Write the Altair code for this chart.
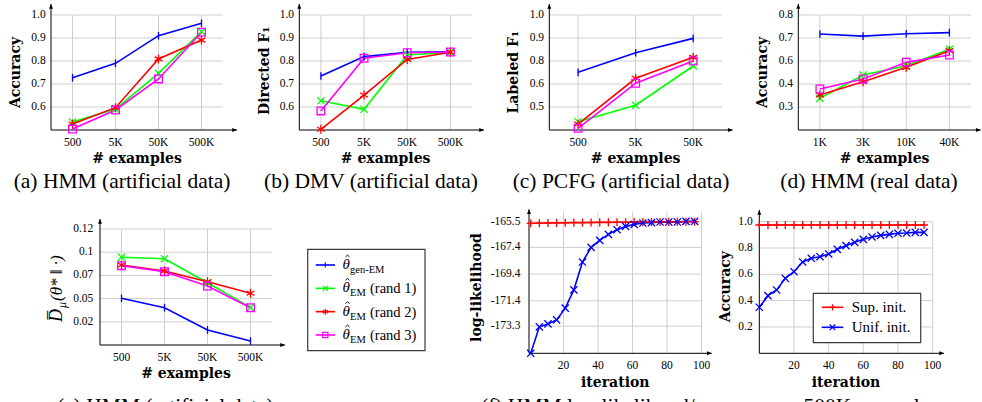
import altair as alt
import pandas as pd

W, H = 982, 402

# ---------------- series names ----------------
EM_SERIES = ["gen-EM", "rand 1", "rand 2", "rand 3"]
INIT_SERIES = ["Sup. init.", "Unif. init."]

# ---------------- (a) HMM artificial ----------------
A_CATS = ["500", "5K", "50K", "500K"]
A_GEN = [0.727, 0.790, 0.910, 0.964]
A_R1 = [0.535, 0.591, 0.746, 0.928]
A_R2 = [0.526, 0.597, 0.809, 0.891]
A_R3 = [0.504, 0.587, 0.722, 0.925]

# ---------------- (b) DMV artificial ----------------
B_CATS = ["500", "5K", "50K", "500K"]
B_GEN = [0.735, 0.819, 0.838, 0.840]
B_R1 = [0.627, 0.590, 0.826, 0.838]
B_R2 = [0.503, 0.652, 0.807, 0.838]
B_R3 = [0.583, 0.812, 0.836, 0.839]

# ---------------- (c) PCFG artificial ----------------
C_CATS = ["500", "5K", "50K"]
C_GEN = [0.701, 0.803, 0.878]
C_R1 = [0.443, 0.529, 0.734]
C_R2 = [0.431, 0.670, 0.779]
C_R3 = [0.409, 0.644, 0.760]

# ---------------- (d) HMM real ----------------
D_CATS = ["1K", "3K", "10K", "40K"]
D_GEN = [0.701, 0.690, 0.702, 0.708]
D_R1 = [0.365, 0.487, 0.535, 0.621]
D_R2 = [0.383, 0.452, 0.527, 0.614]
D_R3 = [0.414, 0.466, 0.553, 0.591]

# ---------------- (e) divergence ----------------
E_CATS = ["500", "5K", "50K", "500K"]
E_GEN = [0.0503, 0.0402, 0.0162, 0.0043]
E_R1 = [0.0945, 0.0930, 0.0671, 0.0406]
E_R2 = [0.0862, 0.0797, 0.0682, 0.0557]
E_R3 = [0.0855, 0.0790, 0.0636, 0.0402]

# ---------------- (f) log-likelihood vs iteration ----------------
F_ITER = [1, 6, 11, 16, 21, 26, 31, 36, 41, 46, 51, 56, 61, 66, 71, 76, 81, 86, 91, 96]
F_SUP = [-165.60, -165.59, -165.58, -165.57, -165.56, -165.55, -165.55, -165.54, -165.53, -165.53,
         -165.52, -165.52, -165.51, -165.51, -165.50, -165.50, -165.49, -165.49, -165.48, -165.48]
F_UNIF = [-175.33, -173.35, -173.13, -172.83, -171.95, -170.58, -168.50, -167.40, -166.88, -166.43,
          -166.08, -165.83, -165.68, -165.58, -165.55, -165.50, -165.50, -165.50, -165.45, -165.45]

# ---------------- (g) accuracy vs iteration ----------------
G_ITER = [0, 5, 10, 15, 20, 25, 30, 35, 40, 45, 50, 55, 60, 65, 70, 75, 80, 85, 90, 95]
G_SUP = [0.975, 0.975, 0.975, 0.975, 0.975, 0.975, 0.975, 0.975, 0.975, 0.975,
         0.975, 0.975, 0.975, 0.975, 0.975, 0.975, 0.975, 0.975, 0.975, 0.975]
G_UNIF = [0.350, 0.438, 0.481, 0.570, 0.620, 0.694, 0.722, 0.734, 0.755, 0.790,
          0.818, 0.843, 0.866, 0.884, 0.896, 0.904, 0.912, 0.914, 0.919, 0.919]

# ---------------- tick labels ----------------
Y_TICKS_AB = [0.6, 0.7, 0.8, 0.9, 1.0]
Y_LABELS_AB = ["0.6", "0.7", "0.8", "0.9", "1.0"]
Y_TICKS_C = [0.52, 0.64, 0.76, 0.88, 1.0]
Y_LABELS_C = ["0.5", "0.6", "0.8", "0.9", "1.0"]
Y_TICKS_D = [0.32, 0.44, 0.56, 0.68, 0.80]
Y_LABELS_D = ["0.3", "0.4", "0.6", "0.7", "0.8"]
Y_TICKS_E = [0.025, 0.05, 0.075, 0.1, 0.125]
Y_LABELS_E = ["0.02", "0.05", "0.07", "0.1", "0.12"]
Y_TICKS_F = [-173.3, -171.4, -169.4, -167.4, -165.5]
Y_LABELS_F = ["-173.3", "-171.4", "-169.4", "-167.4", "-165.5"]
Y_TICKS_G = [0.2, 0.4, 0.6, 0.8, 1.0]
Y_LABELS_G = ["0.2", "0.4", "0.6", "0.8", "1.0"]
IT_TICKS = [20, 40, 60, 80, 100]
IT_LABELS = ["20", "40", "60", "80", "100"]

TOP_CAPTIONS = ["(a) HMM (artificial data)", "(b) DMV (artificial data)",
                "(c) PCFG (artificial data)", "(d) HMM (real data)"]
BOTTOM_CAPTIONS = ["(e) HMM (artificial data)", "(f) HMM log-likelihood/accuracy on 500K examples"]

# ---------------- styles ----------------
SERIF = "Liberation Serif"
BOLD = "DejaVu Serif"
LFS = 11.5
TFS = 14
GRID = "#cfcfcf"
BAR = "M0,-0.85L0,0.85"
XMK = "M-0.8,-0.8L0.8,0.8M-0.8,0.8L0.8,-0.8"
STAR = "M0,-1L0,1M-0.87,-0.5L0.87,0.5M-0.87,0.5L0.87,-0.5"
SQR = "M-0.85,-0.85L0.85,-0.85L0.85,0.85L-0.85,0.85Z"
PLUS = "M0,-0.9L0,0.9M-0.9,0L0.9,0"
ARROW_R = "M0,0L-1,-0.42L-1,0.42Z"
ARROW_U = "M0,0L-0.42,1L0.42,1Z"
HAT = "M-1,0.45L0,-0.45L1,0.45"

ALL_SERIES = EM_SERIES + INIT_SERIES
CSCALE = alt.Scale(domain=ALL_SERIES,
                   range=["#0000ff", "#00ff00", "#ff0000", "#ff00ff", "#ff0000", "#0000ff"])
SSCALE = alt.Scale(domain=ALL_SERIES, range=[BAR, XMK, STAR, SQR, PLUS, XMK])

ONE = pd.DataFrame({"k": [0]})

# geometry of each panel (pixels)
GEO = {
    "a": dict(xr=[51, 223], yr=[130, 15], xd=[-0.5, 3.5], yd=[0.5, 1.0], xtip=237, ytip=4,
              ytx=20.2, yty=72.5, lpy=5.3),
    "b": dict(xr=[299.3, 472], yr=[130, 15], xd=[-0.5, 3.5], yd=[0.5, 1.0], xtip=484, ytip=4,
              ytx=269.2, yty=70.8, lpy=5.3),
    "c": dict(xr=[549.3, 722], yr=[130, 15], xd=[-0.5, 2.5], yd=[0.4, 1.0], xtip=732.7, ytip=4,
              ytx=517.5, yty=72.2, lpy=5.3),
    "d": dict(xr=[798.3, 971], yr=[130, 15], xd=[-0.5, 3.5], yd=[0.2, 0.8], xtip=980.7, ytip=4,
              ytx=766.9, yty=72.5, lpy=5.3),
    "e": dict(xr=[100, 272], yr=[345, 229], xd=[-0.5, 3.5], yd=[0.0, 0.125], xtip=285, ytip=219,
              ytx=62, yty=287, lpy=6.7),
    "f": dict(xr=[529, 701.5], yr=[353.3, 211.7], xd=[0, 100], yd=[-175.33, -164.73], xtip=711.7,
              ytip=209.3, ytx=480.6, yty=287.5, lpy=8.6),
    "g": dict(xr=[759.3, 932.7], yr=[353.3, 221.7], xd=[0, 100], yd=[0.0, 1.0], xtip=944, ytip=210,
              ytx=730.2, yty=286.7, lpy=6.6),
}
XLAB_DY = 16
XTITLE_DY = 33.3


def inv(px, dom, rng):
    return dom[0] + (px - rng[0]) * (dom[1] - dom[0]) / (rng[1] - rng[0])


def long_df(xs, names, lists):
    rows = []
    for name, vals in zip(names, lists):
        for x, v in zip(xs, vals):
            rows.append({"x": x, "v": v, "s": name})
    return pd.DataFrame(rows)


def text_layer(txt, x, y, size, font=SERIF, align="center", angle=0, style="normal",
               weight="normal"):
    return alt.Chart(ONE).mark_text(text=txt, font=font, fontSize=size, align=align,
                                    baseline="alphabetic", angle=angle, fontStyle=style,
                                    fontWeight=weight, color="black").encode(
        x=alt.value(x), y=alt.value(y))


def make_panel(df, g, xt_vals, xt_labels, yt_vals, yt_labels, xgrid, xtitle, ytitle):
    xs = alt.Scale(domain=g["xd"], range=g["xr"], nice=False, zero=False)
    ys = alt.Scale(domain=g["yd"], range=g["yr"], nice=False, zero=False)

    def X(f):
        return alt.X(f, scale=xs, axis=None)

    def Y(f):
        return alt.Y(f, scale=ys, axis=None)

    vg = pd.DataFrame({"gx": xgrid, "y0": g["yd"][0], "y1": g["yd"][1]})
    hg = pd.DataFrame({"gy": yt_vals, "x0": g["xd"][0], "x1": g["xd"][1]})
    ax = pd.DataFrame({"x0": [g["xd"][0]], "x1": [inv(g["xtip"], g["xd"], g["xr"])],
                       "y0": [g["yd"][0]], "y1": [inv(g["ytip"], g["yd"], g["yr"])]})
    xl = pd.DataFrame({"t": xt_vals, "lab": xt_labels, "base": g["yd"][0]})
    yl = pd.DataFrame({"t": yt_vals, "lab": yt_labels, "base": g["xd"][0]})

    layers = [
        alt.Chart(vg).mark_rule(color=GRID, strokeWidth=1).encode(
            x=X("gx:Q"), y=Y("y0:Q"), y2="y1:Q"),
        alt.Chart(hg).mark_rule(color=GRID, strokeWidth=1).encode(
            y=Y("gy:Q"), x=X("x0:Q"), x2="x1:Q"),
        alt.Chart(ax).mark_rule(color="black", strokeWidth=1).encode(
            x=X("x0:Q"), x2="x1:Q", y=Y("y0:Q")),
        alt.Chart(ax).mark_rule(color="black", strokeWidth=1).encode(
            x=X("x0:Q"), y=Y("y0:Q"), y2="y1:Q"),
        alt.Chart(ax).mark_point(shape=ARROW_R, filled=True, size=90, color="black",
                                 opacity=1).encode(x=X("x1:Q"), y=Y("y0:Q")),
        alt.Chart(ax).mark_point(shape=ARROW_U, filled=True, size=90, color="black",
                                 opacity=1).encode(x=X("x0:Q"), y=Y("y1:Q")),
        # tick labels
        alt.Chart(xl).mark_text(font=SERIF, fontSize=LFS, align="center", baseline="alphabetic",
                                dy=XLAB_DY, color="black").encode(
            x=X("t:Q"), y=Y("base:Q"), text="lab:N"),
        alt.Chart(yl).mark_text(font=SERIF, fontSize=LFS, align="right", baseline="middle",
                                dx=-g["lpy"], color="black").encode(
            x=X("base:Q"), y=Y("t:Q"), text="lab:N"),
        # data
        alt.Chart(df).mark_line(strokeWidth=1.6).encode(
            x=X("x:Q"), y=Y("v:Q"), color=alt.Color("s:N", scale=CSCALE, legend=None)),
        alt.Chart(df).mark_point(filled=False, size=81, strokeWidth=1.3, opacity=1).encode(
            x=X("x:Q"), y=Y("v:Q"),
            color=alt.Color("s:N", scale=CSCALE, legend=None),
            shape=alt.Shape("s:N", scale=SSCALE, legend=None)),
        # axis titles
        text_layer(xtitle, (g["xr"][0] + g["xr"][1]) / 2, g["yr"][0] + XTITLE_DY, TFS,
                   font=BOLD, weight="bold"),
    ]
    if ytitle:
        layers.append(text_layer(ytitle, g["ytx"], g["yty"], TFS, font=BOLD, weight="bold",
                                 angle=270))
    return alt.layer(*layers)


idx4 = [0, 1, 2, 3]
idx3 = [0, 1, 2]
XT = "# examples"

pa = make_panel(long_df(idx4, EM_SERIES, [A_GEN, A_R1, A_R2, A_R3]), GEO["a"], idx4, A_CATS,
                Y_TICKS_AB, Y_LABELS_AB, idx4, XT, "Accuracy")
pb = make_panel(long_df(idx4, EM_SERIES, [B_GEN, B_R1, B_R2, B_R3]), GEO["b"], idx4, B_CATS,
                Y_TICKS_AB, Y_LABELS_AB, idx4, XT, "Directed F\u2081")
pc = make_panel(long_df(idx3, EM_SERIES, [C_GEN, C_R1, C_R2, C_R3]), GEO["c"], idx3, C_CATS,
                Y_TICKS_C, Y_LABELS_C, idx3, XT, "Labeled F\u2081")
pd_ = make_panel(long_df(idx4, EM_SERIES, [D_GEN, D_R1, D_R2, D_R3]), GEO["d"], idx4, D_CATS,
                 Y_TICKS_D, Y_LABELS_D, idx4, XT, "Accuracy")
pe = make_panel(long_df(idx4, EM_SERIES, [E_GEN, E_R1, E_R2, E_R3]), GEO["e"], idx4, E_CATS,
                Y_TICKS_E, Y_LABELS_E, idx4, XT, None)
pf = make_panel(long_df(F_ITER, INIT_SERIES, [F_SUP, F_UNIF]), GEO["f"], IT_TICKS, IT_LABELS,
                Y_TICKS_F, Y_LABELS_F, IT_TICKS, "iteration", "log-likelihood")
pg = make_panel(long_df(G_ITER, INIT_SERIES, [G_SUP, G_UNIF]), GEO["g"], IT_TICKS, IT_LABELS,
                Y_TICKS_G, Y_LABELS_G, IT_TICKS, "iteration", "Accuracy")

# ---- (e) y-axis title composed of pieces ----
e_title = [
    text_layer("D\u0305", 62, 322, 18, style="italic", align="left", angle=270),
    text_layer("\u03bc", 66, 308, 12, style="italic", align="left", angle=270),
    text_layer("(\u03b8* \u2016 \u00b7)", 62, 301, 17, style="italic", align="left", angle=270),
]

# ---- legend of (e) ----
LEG_E = pd.DataFrame({"s": EM_SERIES, "row": [0, 1, 2, 3],
                      "sub": ["gen-EM", "EM", "EM", "EM"],
                      "suf": ["", "(rand 1)", "(rand 2)", "(rand 3)"]})
ly = alt.Scale(domain=[0, 3], range=[265, 335])
ly_hat = alt.Scale(domain=[0, 3], range=[256, 326])
LY = alt.Y("row:Q", scale=ly, axis=None)
leg_e = [
    alt.Chart(ONE).mark_rect(fill="white", stroke="#3a3a3a", strokeWidth=1.2).encode(
        x=alt.value(307.7), x2=alt.value(425), y=alt.value(249.3), y2=alt.value(350.7)),
    alt.Chart(LEG_E).mark_rule(strokeWidth=1.6).encode(
        x=alt.value(315.7), x2=alt.value(335), y=LY,
        color=alt.Color("s:N", scale=CSCALE, legend=None)),
    alt.Chart(LEG_E).mark_point(filled=False, size=36, strokeWidth=1.2, opacity=1).encode(
        x=alt.value(325.3), y=LY,
        color=alt.Color("s:N", scale=CSCALE, legend=None),
        shape=alt.Shape("s:N", scale=SSCALE, legend=None)),
    alt.Chart(LEG_E).mark_text(text="\u03b8", font=SERIF, fontSize=15, fontStyle="italic",
                               align="left", baseline="alphabetic", dy=4, color="black").encode(
        x=alt.value(342.5), y=LY),
    alt.Chart(LEG_E).mark_point(shape=HAT, filled=False, size=16, strokeWidth=1, color="black",
                                opacity=1).encode(
        x=alt.value(347.5), y=alt.Y("row:Q", scale=ly_hat, axis=None)),
    alt.Chart(LEG_E).mark_text(font=SERIF, fontSize=10.5, align="left", baseline="alphabetic",
                               dy=8, color="black").encode(
        x=alt.value(350), y=LY, text="sub:N"),
    alt.Chart(LEG_E).mark_text(font=SERIF, fontSize=14.5, align="left", baseline="alphabetic",
                               dy=5, color="black").encode(
        x=alt.value(370), y=LY, text="suf:N"),
]

# ---- legend of (g) ----
LEG_G = pd.DataFrame({"s": INIT_SERIES, "row": [0, 1]})
ly2 = alt.Scale(domain=[0, 1], range=[307.3, 327.3])
LY2 = alt.Y("row:Q", scale=ly2, axis=None)
leg_g = [
    alt.Chart(ONE).mark_rect(fill="white", stroke="#3a3a3a", strokeWidth=1.2).encode(
        x=alt.value(813.3), x2=alt.value(920.7), y=alt.value(293.3), y2=alt.value(342.7)),
    alt.Chart(LEG_G).mark_rule(strokeWidth=1.6).encode(
        x=alt.value(821.7), x2=alt.value(843.3), y=LY2,
        color=alt.Color("s:N", scale=CSCALE, legend=None)),
    alt.Chart(LEG_G).mark_point(filled=False, size=49, strokeWidth=1.2, opacity=1).encode(
        x=alt.value(832.5), y=LY2,
        color=alt.Color("s:N", scale=CSCALE, legend=None),
        shape=alt.Shape("s:N", scale=SSCALE, legend=None)),
    alt.Chart(LEG_G).mark_text(font=SERIF, fontSize=15, align="left", baseline="alphabetic",
                               dy=5, color="black").encode(
        x=alt.value(851.7), y=LY2, text="s:N"),
]

# ---- captions ----
caps = [text_layer(t, cx, 188, 21.5) for t, cx in zip(TOP_CAPTIONS, [122, 371, 621, 869])]
caps += [text_layer(BOTTOM_CAPTIONS[0], 57, 413, 21.5, align="left"),
         text_layer(BOTTOM_CAPTIONS[1], 481, 413, 21.5, align="left")]

chart = alt.layer(pa, pb, pc, pd_, pe, pf, pg, *e_title, *leg_e, *leg_g, *caps).resolve_scale(
    x="independent", y="independent"
).properties(
    width=W, height=H, padding=0, autosize=alt.AutoSizeParams(type="none"),
    background="white"
).configure_view(strokeWidth=0)

chart.save("out.html", embed_options={"renderer": "svg", "actions": False})
